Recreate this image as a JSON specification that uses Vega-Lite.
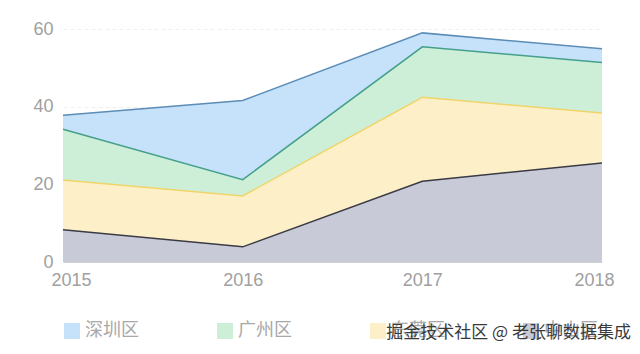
{
  "$schema": "https://vega.github.io/schema/vega-lite/v6.json",
  "width": 539,
  "height": 233,
  "autosize": {"type": "none"},
  "padding": {"left": 63, "top": 29, "right": 38, "bottom": 92},
  "background": "white",
  "config": {"view": {"stroke": null}, "font": "Noto Sans CJK SC"},
  "title": {"text": "掘金技术社区 @ 老张聊数据集成", "orient": "bottom", "anchor": "end", "frame": "group", "dx": 29, "offset": -15, "fontSize": 17, "fontWeight": "normal", "color": "#3a3a3a"},
  "data": {"values": [
    {"year": "2015", "region": "中山区", "value": 8.3, "rank": 1},
    {"year": "2016", "region": "中山区", "value": 3.9, "rank": 1},
    {"year": "2017", "region": "中山区", "value": 20.8, "rank": 1},
    {"year": "2018", "region": "中山区", "value": 25.5, "rank": 1},
    {"year": "2015", "region": "东莞区", "value": 12.8, "rank": 2},
    {"year": "2016", "region": "东莞区", "value": 13.1, "rank": 2},
    {"year": "2017", "region": "东莞区", "value": 21.6, "rank": 2},
    {"year": "2018", "region": "东莞区", "value": 12.9, "rank": 2},
    {"year": "2015", "region": "广州区", "value": 13.1, "rank": 3},
    {"year": "2016", "region": "广州区", "value": 4.2, "rank": 3},
    {"year": "2017", "region": "广州区", "value": 13.0, "rank": 3},
    {"year": "2018", "region": "广州区", "value": 13.0, "rank": 3},
    {"year": "2015", "region": "深圳区", "value": 3.6, "rank": 4},
    {"year": "2016", "region": "深圳区", "value": 20.4, "rank": 4},
    {"year": "2017", "region": "深圳区", "value": 3.6, "rank": 4},
    {"year": "2018", "region": "深圳区", "value": 3.5, "rank": 4}
  ]},
  "transform": [
    {"stack": "value", "groupby": ["year"], "sort": [{"field": "rank", "order": "ascending"}], "as": ["v0", "v1"]}
  ],
  "encoding": {
    "x": {"field": "year", "type": "ordinal", "scale": {"type": "point", "padding": 0},
      "axis": {"labelAngle": 0, "title": null, "ticks": false, "domainColor": "#d0d0d0", "labelFontSize": 18, "labelColor": "#a0a0a0", "labelFlush": true, "labelFlushOffset": 12, "labelPadding": 9, "grid": false, "labelFont": "Liberation Sans"}}
  },
  "layer": [
    {
      "mark": {"type": "area", "opacity": 1},
      "encoding": {
        "y": {"field": "v1", "type": "quantitative", "scale": {"domain": [0, 60]},
          "axis": {"values": [0, 20, 40, 60], "title": null, "ticks": false, "domain": false, "labelFontSize": 18, "labelColor": "#a0a0a0", "labelPadding": 10, "gridColor": "#eeeeee", "gridDash": [4, 3], "labelFont": "Liberation Sans"}},
        "y2": {"field": "v0"},
        "color": {"field": "region", "type": "nominal",
          "scale": {"domain": ["深圳区", "广州区", "东莞区", "中山区"], "range": ["#c6e1fa", "#cdefd8", "#fdf0c8", "#c8cad8"]},
          "legend": {"orient": "none", "legendX": 0, "legendY": 293, "direction": "horizontal", "columns": 4, "title": null, "symbolType": "square", "symbolSize": 256, "symbolStrokeWidth": 0, "symbolOpacity": 1, "labelFontSize": 18, "labelColor": "#a8a8a8", "labelOffset": 4, "columnPadding": 77, "padding": 0}}
      }
    },
    {
      "mark": {"type": "line", "strokeWidth": 1.5},
      "encoding": {
        "y": {"field": "v1", "type": "quantitative"},
        "stroke": {"field": "region", "type": "nominal",
          "scale": {"domain": ["深圳区", "广州区", "东莞区", "中山区"], "range": ["#5b8db6", "#45a08a", "#f0d46a", "#3a3a44"]},
          "legend": null}
      }
    }
  ]
}
